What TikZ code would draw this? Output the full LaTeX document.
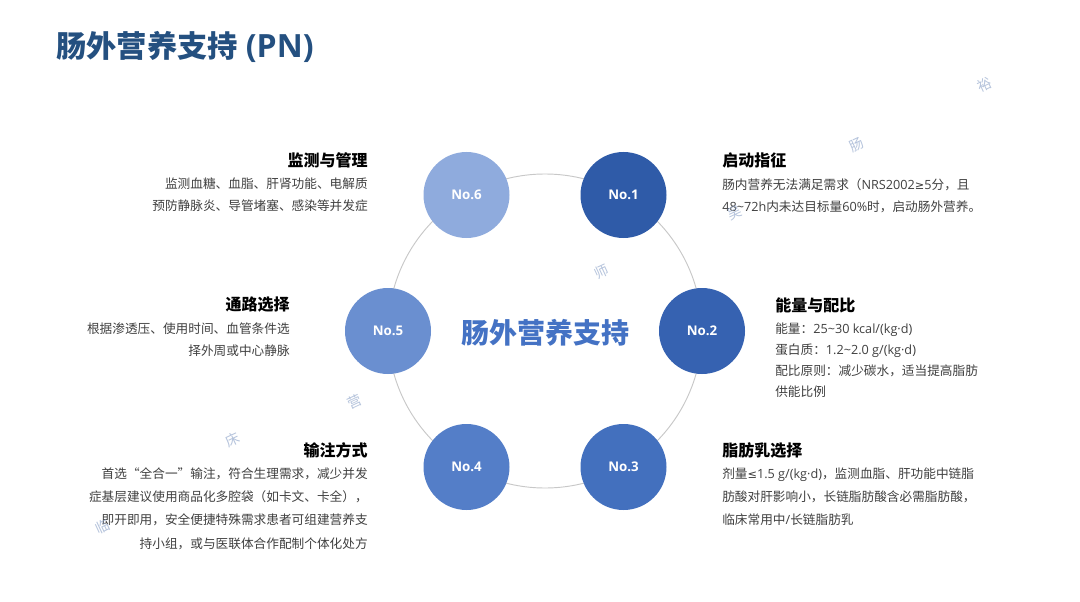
\documentclass[tikz,border=0pt]{standalone}
\usepackage{fontspec}
\setmainfont{Noto Sans CJK SC}
\newfontfamily\latinf{Open Sans}
\newfontfamily\symf{DejaVu Sans}
\newcommand{\lt}[1]{{\latinf #1}}
\newcommand{\sy}[1]{{\symf\fontsize{8.5}{10}\selectfont #1}}
\definecolor{titleblue}{RGB}{36,80,128}
\definecolor{centerblue}{RGB}{68,114,196}
\definecolor{ca}{RGB}{47,91,168}
\definecolor{cb}{RGB}{54,98,177}
\definecolor{cc}{RGB}{67,112,190}
\definecolor{cd}{RGB}{84,126,200}
\definecolor{ce}{RGB}{106,143,208}
\definecolor{cf}{RGB}{143,171,221}
\definecolor{ringgray}{RGB}{200,200,200}
\definecolor{bodygray}{RGB}{64,64,64}
\definecolor{wmark}{RGB}{150,170,205}
\begin{document}
\begin{tikzpicture}[x=0.75pt,y=-0.75pt,
  titlestyle/.style={font=\fontsize{22.7}{26}\selectfont\bfseries, text=titleblue, inner sep=0},
  numc/.style={circle, minimum size=64.5pt, inner sep=0, text=white, font=\fontsize{10}{12}\selectfont\bfseries},
  head/.style={font=\fontsize{12}{14}\selectfont\bfseries, text=black, inner sep=0},
  bodyl/.style={font=\fontsize{9.5}{16.5}\selectfont, text=bodygray, inner sep=0, align=left, anchor=north west},
  bodyr/.style={font=\fontsize{9.5}{16.5}\selectfont, text=bodygray, inner sep=0, align=right, anchor=north east},
  wm/.style={font=\fontsize{10.5}{12}\selectfont, text=wmark, opacity=0.7, rotate=25, inner sep=0}
]
\useasboundingbox (0,0) rectangle (1080,602);
\fill[white] (0,0) rectangle (1080,602);

\node[titlestyle, anchor=west] (title) at (56,47) {肠外营养支持\hspace{6pt}{\latinf\fontsize{24}{26}\selectfont (PN)}};

% ring
\node[circle, draw=ringgray, line width=0.7pt, minimum size=235.5pt, inner sep=0] (ring) at (545,331) {};

% center text
\node[font=\fontsize{21}{24}\selectfont\bfseries, text=centerblue, inner sep=0] (ctext) at (545,333) {肠外营养支持};

% number circles
\node[numc, fill=ca] (n1) at (623.5,195) {\lt{No.1}};
\node[numc, fill=cb] (n2) at (702,331) {\lt{No.2}};
\node[numc, fill=cc] (n3) at (623.5,467) {\lt{No.3}};
\node[numc, fill=cd] (n4) at (466.5,467) {\lt{No.4}};
\node[numc, fill=ce] (n5) at (388,331) {\lt{No.5}};
\node[numc, fill=cf] (n6) at (466.5,195) {\lt{No.6}};

% right blocks
\node[head, anchor=west] (h1) at (722,160) {启动指征};
\node[bodyl] (b1) at (722,178) {肠内营养无法满足需求（\lt{NRS2002}\sy{≥}\lt{5}分，且\\\lt{48\textasciitilde72h}内未达目标量\lt{60\%}时，启动肠外营养。};

\node[head, anchor=west] (h2) at (775,305) {能量与配比};
\node[bodyl, font=\fontsize{9.5}{15.75}\selectfont] (b2) at (775,323) {能量：\lt{25\textasciitilde30 kcal/(kg·d)}\\蛋白质：\lt{1.2\textasciitilde2.0 g/(kg·d)}\\配比原则：减少碳水，适当提高脂肪\\供能比例};

\node[head, anchor=west] (h3) at (722,450) {脂肪乳选择};
\node[bodyl, font=\fontsize{9.5}{16.9}\selectfont] (b3) at (722,468) {剂量\sy{≤}\lt{1.5 g/(kg·d)}，监测血脂、肝功能中链脂\\肪酸对肝影响小，长链脂肪酸含必需脂肪酸，\\临床常用中\lt{/}长链脂肪乳};

% left blocks
\node[head, anchor=east] (h6) at (368,160) {监测与管理};
\node[bodyr] (b6) at (368,178) {监测血糖、血脂、肝肾功能、电解质\\预防静脉炎、导管堵塞、感染等并发症};

\node[head, anchor=east] (h5) at (290,305) {通路选择};
\node[bodyr] (b5) at (290,323) {根据渗透压、使用时间、血管条件选\\择外周或中心静脉};

\node[head, anchor=east] (h4) at (368,450) {输注方式};
\node[bodyr, font=\fontsize{9.5}{17.6}\selectfont] (b4) at (368,467) {首选“全合一”输注，符合生理需求，减少并发\\症基层建议使用商品化多腔袋（如卡文、卡全），\\即开即用，安全便捷特殊需求患者可组建营养支\\持小组，或与医联体合作配制个体化处方};

% watermark
\node[wm] (w1) at (985,85) {裕};
\node[wm] (w2) at (857,145) {肠};
\node[wm] (w3) at (735,213) {吴};
\node[wm] (w4) at (602,272) {师};
\node[wm] (w5) at (355,402) {营};
\node[wm] (w6) at (233,440) {床};
\node[wm] (w7) at (103,527) {临};
\end{tikzpicture}
\end{document}
